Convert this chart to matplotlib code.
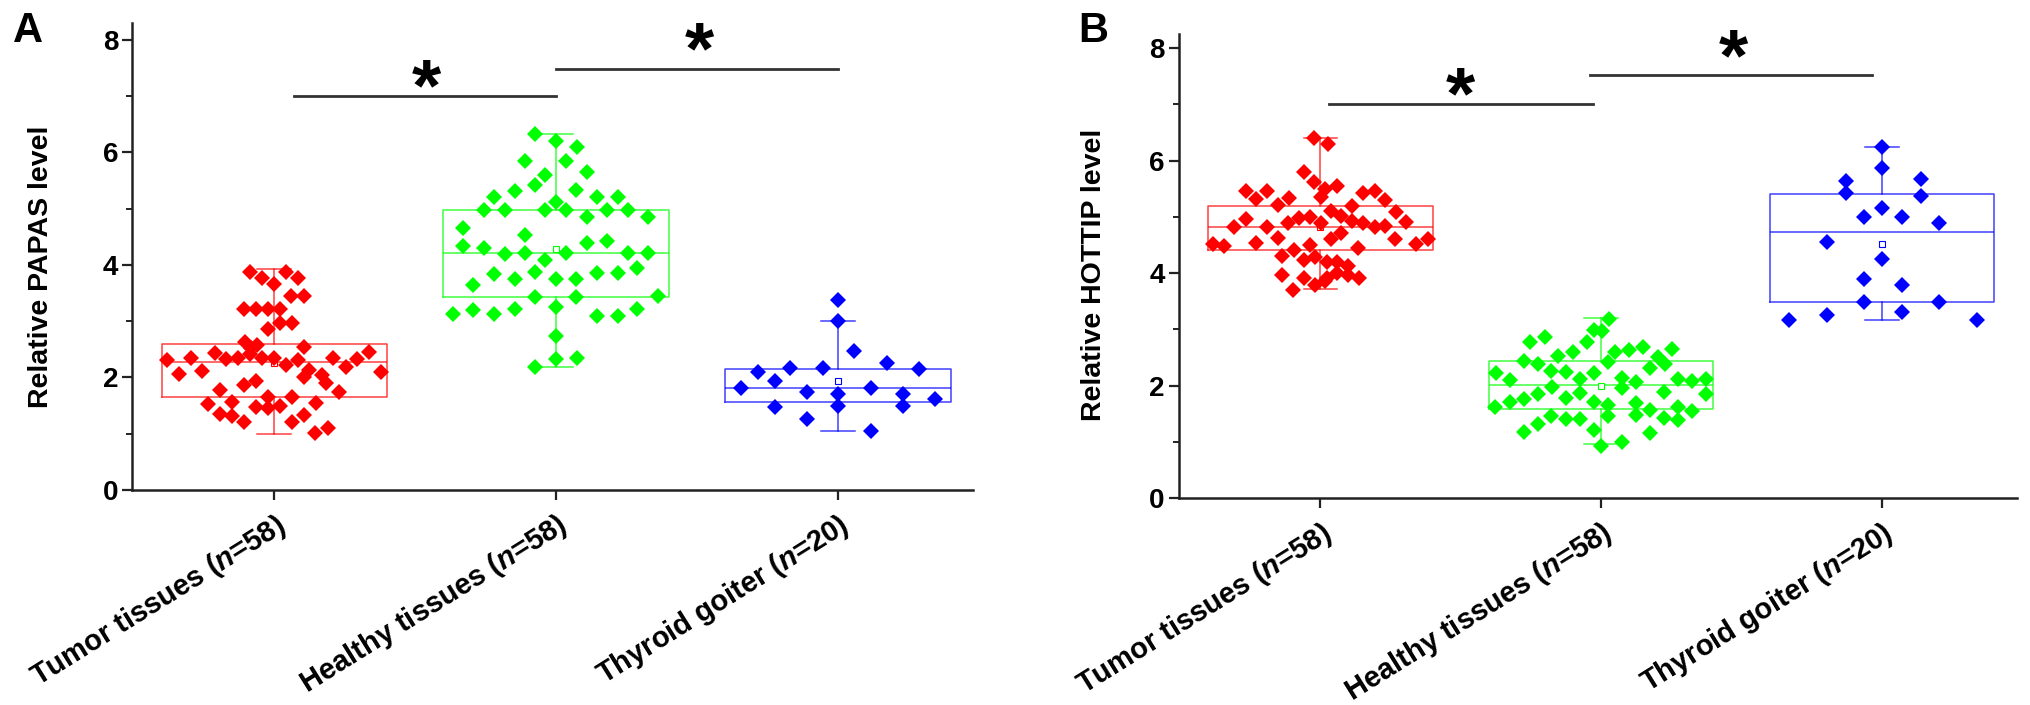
import matplotlib
matplotlib.use("Agg")
import matplotlib.pyplot as plt
from matplotlib.ticker import MultipleLocator

plt.rcParams['font.family'] = ['Liberation Sans', 'DejaVu Sans']
plt.rcParams['mathtext.fontset'] = 'custom'
plt.rcParams['mathtext.it'] = 'Liberation Sans:italic:bold'
plt.rcParams['mathtext.rm'] = 'Liberation Sans:bold'

groups = ["Tumor tissues", "Healthy tissues", "Thyroid goiter"]
group_n = [58, 58, 20]
colors = ["#ff0000", "#00ff00", "#0000ff"]

# ---- panel A: PAPAS (dx = horizontal spread in the swarm)
papas_tumor = [3.87, 3.76, 3.66, 3.88, 3.76, 3.44, 3.45, 3.22, 3.22, 3.22, 3.22,
               2.86, 2.96, 2.96, 2.63, 2.52, 2.57, 2.55,
               2.31, 2.34, 2.43, 2.33, 2.35, 2.41, 2.34, 2.34, 2.22, 2.31, 2.34, 2.33, 2.45,
               2.07, 2.12, 2.13, 2.00, 2.04, 1.90, 2.19, 2.09,
               1.78, 1.87, 1.93, 1.75,
               1.52, 1.56, 1.66, 1.66, 1.54,
               1.35, 1.32, 1.48, 1.45, 1.50, 1.33,
               1.20, 1.20, 1.01, 1.10]
papas_tumor_dx = [-0.087, -0.042, 0.0, 0.041, 0.083, 0.061, 0.105, -0.107, -0.066, -0.023, 0.022,
                  -0.023, 0.020, 0.062, -0.105, -0.083, -0.061, 0.105,
                  -0.381, -0.296, -0.211, -0.170, -0.129, -0.087, -0.045, 0.0, 0.041, 0.083, 0.209, 0.294, 0.335,
                  -0.338, -0.255, 0.124, 0.105, 0.168, 0.185, 0.253, 0.377,
                  -0.191, -0.106, -0.066, 0.230,
                  -0.234, -0.149, -0.023, 0.062, 0.147,
                  -0.193, -0.149, -0.066, -0.023, 0.020, 0.105,
                  -0.106, 0.062, 0.145, 0.190]

papas_healthy = [6.32, 6.21, 6.09, 5.85, 5.85, 5.65, 5.59, 5.42, 5.32, 5.33,
                 5.21, 5.20, 5.21, 5.11,
                 4.97, 4.97, 4.97, 4.97, 4.97, 4.97, 4.86, 4.86,
                 4.65, 4.53,
                 4.33, 4.30, 4.20, 4.22, 4.22, 4.39, 4.43, 4.22, 4.21,
                 4.09, 3.95,
                 3.84, 3.75, 3.88, 3.75, 3.75, 3.85, 3.86,
                 3.64,
                 3.43, 3.43, 3.44,
                 3.12, 3.20, 3.12, 3.21, 3.26, 3.09, 3.09, 3.21,
                 2.74, 2.32, 2.34, 2.18]
papas_healthy_dx = [-0.075, 0.0, 0.073, -0.110, 0.036, 0.109, -0.039, -0.073, -0.146, 0.071,
                    -0.219, 0.145, 0.219, 0.0,
                    -0.256, -0.181, -0.039, 0.036, 0.182, 0.255, 0.109, 0.328,
                    -0.329, -0.110,
                    -0.329, -0.256, -0.181, -0.110, 0.036, 0.109, 0.182, 0.255, 0.328,
                    -0.039, 0.289,
                    -0.219, -0.146, -0.073, 0.0, 0.071, 0.145, 0.219,
                    -0.294,
                    -0.073, 0.071, 0.363,
                    -0.365, -0.294, -0.219, -0.146, 0.0, 0.145, 0.219, 0.289,
                    0.0, 0.0, 0.073, -0.075]

papas_goiter = [3.38, 3.01, 2.47, 2.26, 2.15, 2.10, 2.16, 2.16, 1.81, 1.93,
                1.74, 1.71, 1.81, 1.71, 1.62, 1.47, 1.49, 1.50, 1.27, 1.04]
papas_goiter_dx = [0.0, 0.0, 0.058, 0.176, 0.287, -0.283, -0.169, -0.054, -0.342, -0.224,
                   -0.111, 0.0, 0.117, 0.230, 0.345, -0.224, 0.0, 0.230, -0.111, 0.117]

# box statistics (q1, median, q3, whisker low/high, mean)
papas_q1 = [1.65, 3.43, 1.57]
papas_med = [2.27, 4.22, 1.81]
papas_q3 = [2.60, 4.97, 2.15]
papas_wlo = [1.00, 2.18, 1.04]
papas_whi = [3.93, 6.32, 3.01]
papas_mean = [2.25, 4.28, 1.94]

# ---- panel B: HOTTIP
hottip_tumor = [6.40, 6.29, 5.80, 5.61, 5.49, 5.55, 5.35,
                5.45, 5.31, 5.46, 5.21, 5.33,
                5.20, 5.42, 5.46, 5.30,
                5.11, 5.02, 5.09, 4.90,
                4.96, 4.82, 4.82, 4.89, 4.98, 4.99, 4.89,
                4.92, 4.89, 4.82, 4.83,
                4.63, 4.54, 4.60, 4.71, 4.60, 4.51, 4.48, 4.51, 4.60,
                4.44,
                4.50, 4.31, 4.41,
                4.23, 4.29, 4.20, 4.20, 4.12,
                3.97, 3.91, 3.91, 4.00, 3.97, 3.91,
                3.79, 3.85, 3.70]
hottip_tumor_dx = [-0.022, 0.026, -0.058, -0.022, 0.016, 0.061, 0.002,
                   -0.266, -0.229, -0.191, -0.152, -0.111,
                   0.111, 0.152, 0.194, 0.232,
                   0.037, 0.075, 0.271, 0.306,
                   -0.266, -0.306, -0.191, -0.114, -0.076, -0.037, 0.002,
                   0.111, 0.152, 0.194, 0.232,
                   -0.152, -0.229, 0.037, 0.075, 0.265, -0.381, -0.342, 0.342, 0.383,
                   0.134,
                   -0.037, -0.136, -0.093,
                   -0.058, -0.020, 0.022, 0.061, 0.099,
                   -0.136, -0.058, 0.022, 0.061, 0.099, 0.137,
                   -0.020, 0.016, -0.097]

hottip_healthy = [3.19, 2.99, 2.97,
                  2.77, 2.86, 2.77,
                  2.53, 2.60, 2.60, 2.64, 2.69, 2.65,
                  2.44, 2.38, 2.41, 2.51, 2.38, 2.32,
                  2.22, 2.10, 2.26, 2.24, 2.12, 2.22, 2.14, 2.06, 2.12, 2.08, 2.12,
                  1.98, 1.96, 1.88, 1.85,
                  1.62, 1.70, 1.76, 1.85, 1.77, 1.86, 1.71, 1.65, 1.69,
                  1.45, 1.41, 1.41, 1.45, 1.48, 1.57, 1.43, 1.39, 1.55, 1.62,
                  1.18, 1.31, 1.21, 1.16,
                  0.93, 0.99]
hottip_healthy_dx = [0.028, -0.027, 0.005,
                     -0.252, -0.199, -0.051,
                     -0.152, -0.101, 0.050, 0.099, 0.150, 0.251,
                     -0.276, -0.225, 0.026, 0.204, 0.227, 0.174,
                     -0.374, -0.326, -0.178, -0.126, -0.075, -0.027, 0.073, 0.123, 0.275, 0.324, 0.375,
                     -0.175, 0.073, 0.225, 0.375,
                     -0.377, -0.326, -0.276, -0.225, -0.126, -0.075, -0.027, 0.026, 0.123,
                     -0.178, -0.126, -0.075, 0.026, 0.123, 0.174, 0.225, 0.275, 0.324, 0.275,
                     -0.276, -0.225, -0.027, 0.174,
                     0.0, 0.076]

hottip_goiter = [6.24, 5.87, 5.63, 5.43, 5.67, 5.37, 5.15, 4.99, 4.99, 4.89,
                 4.56, 4.25, 3.90, 3.79, 3.48, 3.48, 3.30, 3.25, 3.17, 3.16]
hottip_goiter_dx = [0.0, 0.0, -0.129, -0.129, 0.140, 0.140, 0.0, -0.062, 0.072, 0.205,
                    -0.194, 0.0, -0.062, 0.072, -0.062, 0.205, 0.072, -0.194, -0.330, 0.339]

hottip_q1 = [4.41, 1.58, 3.48]
hottip_med = [4.82, 2.01, 4.73]
hottip_q3 = [5.20, 2.43, 5.41]
hottip_wlo = [3.72, 0.96, 3.16]
hottip_whi = [6.40, 3.20, 6.24]
hottip_mean = [4.82, 1.99, 4.52]


def draw_panel(ax, values, offsets, q1, med, q3, wlo, whi, mean, ylabel, ytop):
    stats = []
    for i in range(3):
        stats.append(dict(q1=q1[i], med=med[i], q3=q3[i], whislo=wlo[i],
                          whishi=whi[i], mean=mean[i], fliers=[]))
    bp = ax.bxp(stats, positions=[1, 2, 3], widths=0.8, showmeans=True,
                capwidths=0.12, showfliers=False, manage_ticks=False)
    for i in range(3):
        c = colors[i]
        bp['boxes'][i].set(color=c, linewidth=1.1, alpha=0.75)
        bp['medians'][i].set(color=c, linewidth=1.1, alpha=0.75)
        for w in bp['whiskers'][2 * i:2 * i + 2]:
            w.set(color=c, linewidth=1.1, alpha=0.75)
        for cp in bp['caps'][2 * i:2 * i + 2]:
            cp.set(color=c, linewidth=1.1, alpha=0.75)
        bp['means'][i].set(marker='s', markersize=4.5, markerfacecolor='white',
                           markeredgecolor=c, markeredgewidth=0.8)
        xs = [i + 1 + d for d in offsets[i]]
        ax.plot(xs, values[i], linestyle='none', marker='D', markersize=8.4,
                markerfacecolor=c, markeredgewidth=0, zorder=3)

    ax.set_xlim(0.495, 3.48)
    ax.set_ylim(0, ytop)
    ax.spines['top'].set_visible(False)
    ax.spines['right'].set_visible(False)
    for s in ['left', 'bottom']:
        ax.spines[s].set_linewidth(1.8)
        ax.spines[s].set_color('#222222')
    ax.yaxis.set_major_locator(MultipleLocator(2))
    ax.yaxis.set_minor_locator(MultipleLocator(1))
    ax.set_yticks([0, 2, 4, 6, 8])
    ax.tick_params(axis='y', which='major', length=7, width=1.6, labelsize=20,
                   color='#222222', pad=3)
    ax.tick_params(axis='y', which='minor', length=4, width=1.4, color='#222222')
    ax.tick_params(axis='x', which='major', length=7, width=1.6, color='#222222', pad=7)
    for t in ax.get_yticklabels():
        t.set_fontweight('bold')
    ax.set_xticks([1, 2, 3])
    labels = ["%s ($\\it{n}$=%d)" % (g, n) for g, n in zip(groups, group_n)]
    ax.set_xticklabels(labels, rotation=32, ha='right', rotation_mode='anchor',
                       fontsize=21, fontweight='bold')
    ax.set_ylabel(ylabel, fontsize=20.5, fontweight='bold')


fig = plt.figure(figsize=(20.31, 7.05), dpi=100)
axA = fig.add_axes([0.0650, 0.3050, 0.4141, 0.6624])
axB = fig.add_axes([0.5803, 0.2936, 0.4126, 0.6582])

draw_panel(axA, [papas_tumor, papas_healthy, papas_goiter],
           [papas_tumor_dx, papas_healthy_dx, papas_goiter_dx],
           papas_q1, papas_med, papas_q3, papas_wlo, papas_whi, papas_mean,
           "Relative PAPAS level", 8.3)
draw_panel(axB, [hottip_tumor, hottip_healthy, hottip_goiter],
           [hottip_tumor_dx, hottip_healthy_dx, hottip_goiter_dx],
           hottip_q1, hottip_med, hottip_q3, hottip_wlo, hottip_whi, hottip_mean,
           "Relative HOTTIP level", 8.25)
axA.yaxis.set_label_coords(-0.093, 0.477)
axB.yaxis.set_label_coords(-0.085, 0.48)

# significance brackets
axA.plot([1.07, 2.0], [7.0, 7.0], color='#333333', lw=2, clip_on=False)
axA.plot([2.0, 3.0], [7.48, 7.48], color='#333333', lw=2, clip_on=False)
axA.text(1.54, 6.75, '*', fontsize=54, fontweight='bold', ha='center', va='baseline')
axA.text(2.51, 7.4, '*', fontsize=54, fontweight='bold', ha='center', va='baseline')
axB.plot([1.03, 1.97], [7.0, 7.0], color='#333333', lw=2, clip_on=False)
axB.plot([1.96, 2.965], [7.52, 7.52], color='#333333', lw=2, clip_on=False)
axB.text(1.50, 6.75, '*', fontsize=54, fontweight='bold', ha='center', va='baseline')
axB.text(2.47, 7.43, '*', fontsize=54, fontweight='bold', ha='center', va='baseline')

fig.text(0.0065, 0.985, 'A', fontsize=30, fontweight='bold', ha='left', va='top')
fig.text(0.531, 0.985, 'B', fontsize=30, fontweight='bold', ha='left', va='top')

fig.savefig('out.png', dpi=100)
